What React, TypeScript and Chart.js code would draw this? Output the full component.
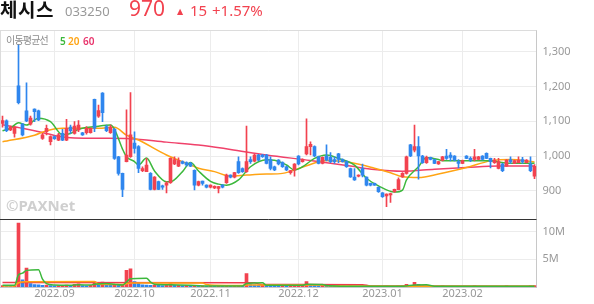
import React, { useEffect, useRef } from 'react';
import { Chart, registerables } from 'chart.js';

Chart.register(...registerables);

const DATES = [
  '2022-08-12','2022-08-16','2022-08-17','2022-08-18','2022-08-19','2022-08-22','2022-08-23','2022-08-24','2022-08-25','2022-08-26','2022-08-29','2022-08-30','2022-08-31',
  '2022-09-01','2022-09-02','2022-09-05','2022-09-06','2022-09-07','2022-09-08','2022-09-13','2022-09-14','2022-09-15','2022-09-16','2022-09-19','2022-09-20','2022-09-21','2022-09-22','2022-09-23','2022-09-26','2022-09-27','2022-09-28','2022-09-29','2022-09-30',
  '2022-10-04','2022-10-05','2022-10-06','2022-10-07','2022-10-11','2022-10-12','2022-10-13','2022-10-14','2022-10-17','2022-10-18','2022-10-19','2022-10-20','2022-10-21','2022-10-24','2022-10-25','2022-10-26','2022-10-27','2022-10-28','2022-10-31',
  '2022-11-01','2022-11-02','2022-11-03','2022-11-04','2022-11-07','2022-11-08','2022-11-09','2022-11-10','2022-11-11','2022-11-14','2022-11-15','2022-11-16','2022-11-17','2022-11-18','2022-11-21','2022-11-22','2022-11-23','2022-11-24','2022-11-25','2022-11-28','2022-11-29','2022-11-30',
  '2022-12-01','2022-12-02','2022-12-05','2022-12-06','2022-12-07','2022-12-08','2022-12-09','2022-12-12','2022-12-13','2022-12-14','2022-12-15','2022-12-16','2022-12-19','2022-12-20','2022-12-21','2022-12-22','2022-12-23','2022-12-26','2022-12-27','2022-12-28','2022-12-29',
  '2023-01-02','2023-01-03','2023-01-04','2023-01-05','2023-01-06','2023-01-09','2023-01-10','2023-01-11','2023-01-12','2023-01-13','2023-01-16','2023-01-17','2023-01-18','2023-01-19','2023-01-20','2023-01-25','2023-01-26','2023-01-27','2023-01-30','2023-01-31',
  '2023-02-01','2023-02-02','2023-02-03','2023-02-06','2023-02-07','2023-02-08','2023-02-09','2023-02-10','2023-02-13','2023-02-14','2023-02-15','2023-02-16','2023-02-17','2023-02-20','2023-02-21','2023-02-22','2023-02-23','2023-02-24','2023-02-27',
];

const TICK_DATES = ['2022-09-01', '2022-10-04', '2022-11-01', '2022-12-01', '2023-01-02', '2023-02-01'];
const TICK_LABELS = ['2022.09', '2022.10', '2022.11', '2022.12', '2023.01', '2023.02'];
const PRICE_TICKS = [900, 1000, 1100, 1200, 1300];
const VOLUME_TICKS = [5, 10];

const OPEN = [
  1094,1101,1075,1065,1202,1092,1130,1092,1135,1130,1051,1070,1041,1056,1046,1065,1046,1083,1065,1075,
  1067,1067,1067,1163,1115,1181,1085,1067,1077,998,950,984,998,1037,1027,958,955,950,904,926,
  914,916,923,977,971,984,981,979,959,916,928,916,910,908,907,916,923,945,939,984,
  964,955,990,985,1003,1003,1003,990,969,988,981,969,952,960,1000,984,1006,1027,1027,998,
  979,1000,996,990,1006,990,984,964,939,942,964,939,921,921,910,894,885,888,897,903,
  940,950,1032,1017,1027,1000,981,996,990,977,987,1000,1003,1000,984,979,1000,993,990,990,
  1000,1008,993,981,964,977,971,990,979,981,990,981,977,942,
];
const HIGH = [
  1115,1104,1086,1085,1322,1094,1211,1115,1136,1132,1065,1089,1058,1058,1065,1077,1106,1089,1099,1102,
  1068,1085,1081,1164,1147,1183,1089,1089,1080,999,951,1133,1183,1070,1030,969,993,952,941,928,
  916,926,995,998,995,986,983,982,960,928,928,917,917,914,913,918,948,946,953,998,
  966,1086,998,1005,1005,1005,1005,998,971,990,983,971,959,978,1001,992,1107,1041,1029,1000,
  998,1032,1010,998,1008,992,986,965,964,946,977,940,922,922,911,895,891,893,905,937,
  952,1000,1034,1089,1056,1002,1000,997,991,985,999,1019,1010,1001,990,988,1001,998,1019,999,
  1001,1009,994,993,993,979,990,998,988,998,996,990,998,975,
];
const LOW = [
  1083,1070,1073,1054,1150,1058,1099,1089,1099,1102,1048,1061,1032,1048,1044,1044,1044,1065,1063,1070,
  1059,1063,1066,1070,1111,1099,1070,1065,990,945,883,983,996,1008,952,955,955,902,902,903,
  904,894,921,975,969,977,971,969,902,914,916,908,908,906,894,908,921,937,937,950,
  953,953,979,983,986,996,977,960,958,974,967,958,948,942,974,982,1003,1003,998,977,
  977,986,981,979,981,982,967,938,930,940,940,914,914,915,895,881,854,866,895,902,
  938,948,998,1012,933,979,979,989,978,976,986,990,986,986,966,978,992,984,986,989,
  989,992,966,979,963,955,970,979,978,980,979,980,955,935,
];
const CLOSE = [
  1102,1073,1083,1083,1154,1061,1101,1109,1128,1104,1061,1080,1056,1050,1061,1046,1080,1073,1086,1089,
  1061,1080,1080,1080,1131,1125,1073,1083,993,950,904,1003,1061,1022,964,964,974,904,939,904,
  910,923,993,990,987,979,974,971,916,926,921,910,916,913,912,910,945,939,952,952,
  955,984,984,1003,988,998,979,964,960,977,969,960,958,977,977,990,1027,1034,1000,979,
  996,988,984,984,990,984,969,940,931,945,945,916,916,916,897,883,890,892,904,932,
  950,998,1000,1027,1000,981,996,990,979,984,998,993,996,988,979,987,993,987,998,998,
  990,993,984,988,984,958,988,984,987,988,984,988,958,970,
];

// trading volume in millions of shares
const VOLUME_M = [
  0.25,0.2,0.15,0.2,11.55,1.3,3.4,0.6,0.45,0.4,
  0.3,0.35,0.25,0.2,0.25,0.3,0.35,0.3,0.5,0.55,
  0.25,0.2,0.3,0.95,0.85,0.9,0.35,0.3,0.35,0.3,
  0.35,3.0,3.3,1.0,0.8,0.4,0.35,0.3,0.35,0.3,
  0.25,0.3,0.6,0.3,0.3,0.25,0.3,0.25,0.3,0.2,
  0.2,0.15,0.2,0.1,0.15,0.1,0.2,0.15,0.2,0.3,
  0.2,2.4,0.5,0.4,0.3,0.35,0.3,0.25,0.2,0.15,
  0.2,0.15,0.2,0.25,0.3,0.3,1.0,0.5,0.3,0.25,
  0.3,0.25,0.2,0.15,0.2,0.15,0.1,0.15,0.1,0.1,
  0.15,0.1,0.1,0.1,0.1,0.1,0.15,0.1,0.1,0.15,
  0.2,0.5,0.15,0.85,0.5,0.2,0.15,0.1,0.1,0.1,
  0.2,0.1,0.1,0.1,0.1,0.1,0.1,0.1,0.2,0.1,
  0.1,0.1,0.1,0.1,0.1,0.1,0.2,0.1,0.1,0.1,
  0.1,0.1,0.2,0.25,
];

// moving averages: [day index, value]
const MA5: [number, number][] = [
  [0,1073],[2,1080],[4,1096],[6,1089],[9,1109],[12,1099],[15,1061],[17,1065],[19,1077],[24,1086],[27,1089],[28,1077],[30,1020],[31,998],[33,984],[34,974],[36,994],[38,957],[41,926],[42,926],[45,955],[47,981],[49,957],[52,927],[54,919],[56,916],[59,931],[62,969],[66,989],[68,988],[71,974],[73,960],[75,969],[78,993],[81,1003],[84,993],[88,974],[91,936],[94,914],[98,896],[100,902],[101,931],[104,969],[106,996],[109,990],[110,986],[122,986],[124,983],[127,979],[133,979],
];
const MA20: [number, number][] = [
  [0,1041],[8,1060],[11,1073],[15,1080],[24,1080],[28,1083],[31,1060],[34,1046],[41,1003],[46,979],[49,965],[53,955],[57,942],[61,945],[66,948],[70,950],[76,972],[81,987],[87,981],[93,965],[97,952],[100,940],[104,938],[109,948],[116,967],[122,986],[127,990],[133,983],
];
const MA60: [number, number][] = [
  [0,1090],[5,1080],[10,1068],[14,1057],[18,1052],[25,1051],[32,1050],[41,1040],[49,1032],[57,1019],[66,1003],[77,987],[87,971],[93,961],[100,956],[108,962],[116,967],[124,971],[133,971],
];
const VMA5: [number, number][] = [
  [0,0.3],[3,0.3],[4,2.2],[5,2.5],[6,3.0],[9,3.1],[10,1.4],[11,0.6],[13,0.35],[17,0.3],[19,0.4],[22,0.35],[23,0.5],[26,0.65],[28,0.5],[30,0.35],[31,0.9],[32,1.5],[36,1.6],[37,0.9],[38,0.5],[42,0.4],[47,0.3],[50,0.2],[60,0.2],[61,0.65],[65,0.75],[66,0.3],[75,0.3],[76,0.5],[80,0.45],[81,0.25],[85,0.15],[100,0.12],[101,0.2],[103,0.38],[106,0.4],[108,0.15],[133,0.15],
];
const VMA20: [number, number][] = [
  [0,0.2],[3,0.2],[4,0.78],[6,0.95],[23,1.0],[24,0.5],[30,0.45],[31,0.6],[32,0.72],[50,0.7],[51,0.45],[53,0.3],[60,0.25],[61,0.35],[80,0.35],[81,0.22],[100,0.15],[133,0.15],
];
const VMA60: [number, number][] = [
  [0,0.8],[63,0.78],[64,0.55],[66,0.45],[90,0.42],[92,0.2],[133,0.15],
];

const RED = '#f2424f';
const BLUE = '#2f86ee';
const C_MA5 = '#3cb83c';
const C_MA20 = '#ffa414';
const C_MA60 = '#f0416a';
const GRID = '#ececec';
const AXIS = '#c8c8c8';
const FONT = "'Noto Sans', 'Noto Sans CJK KR', sans-serif";
const KFONT = "'Noto Sans CJK KR', 'Noto Sans', sans-serif";

const TICK_INDEX = TICK_DATES.map((d) => DATES.indexOf(d));

const toPoints = (arr: [number, number][]) => arr.map(([i, v]) => ({ x: DATES[i], y: v }));

const framePlugin = {
  id: 'frame',
  afterDraw(chart: any) {
    const { ctx, chartArea: a, scales } = chart;
    ctx.save();
    ctx.lineWidth = 1;
    ctx.strokeStyle = '#dcdcdc';
    ctx.beginPath();
    ctx.moveTo(0, Math.round(a.top) + 0.5);
    ctx.lineTo(a.right, Math.round(a.top) + 0.5);
    ctx.moveTo(0.5, a.top);
    ctx.lineTo(0.5, a.bottom);
    ctx.stroke();
    ctx.strokeStyle = '#333333';
    const y = Math.round(scales.y.bottom) + 0.5;
    ctx.beginPath();
    ctx.moveTo(0, y);
    ctx.lineTo(a.right, y);
    ctx.stroke();
    ctx.restore();
  },
};

export default function App() {
  const ref = useRef<HTMLCanvasElement>(null);

  useEffect(() => {
    const canvas = ref.current;
    if (!canvas) return;
    Chart.defaults.font.family = FONT;
    const candleColor = (ctx: any) => (CLOSE[ctx.dataIndex] >= OPEN[ctx.dataIndex] ? RED : BLUE);
    const volColor = (ctx: any) => {
      const i = ctx.dataIndex;
      return i > 0 && VOLUME_M[i] < VOLUME_M[i - 1] ? BLUE : RED;
    };
    const lineDs = (label: string, arr: [number, number][], color: string, axis: string, order: number, width = 1.5) => ({
      type: 'line' as const,
      label,
      data: toPoints(arr),
      yAxisID: axis,
      borderColor: color,
      backgroundColor: color,
      borderWidth: width,
      pointRadius: 0,
      cubicInterpolationMode: 'monotone' as const,
      order,
    });

    const chart = new Chart(canvas, {
      type: 'bar',
      data: {
        labels: DATES,
        datasets: [
          {
            type: 'bar',
            label: 'body',
            data: OPEN.map((o, i) => [o, CLOSE[i]]) as any,
            yAxisID: 'y',
            backgroundColor: candleColor,
            barThickness: 3,
            grouped: false,
            minBarLength: 1,
            borderWidth: 0,
            order: 1,
          },
          {
            type: 'bar',
            label: 'wick',
            data: LOW.map((l, i) => [l, HIGH[i]]) as any,
            yAxisID: 'y',
            backgroundColor: candleColor,
            barThickness: 1,
            grouped: false,
            borderWidth: 0,
            order: 2,
          },
          lineDs('MA5', MA5, C_MA5, 'y', 3),
          lineDs('MA20', MA20, C_MA20, 'y', 4),
          lineDs('MA60', MA60, C_MA60, 'y', 5),
          {
            type: 'bar',
            label: 'volume',
            data: VOLUME_M,
            yAxisID: 'yv',
            backgroundColor: volColor,
            barThickness: 3,
            grouped: false,
            borderWidth: 0,
            order: 9,
          },
          lineDs('VMA5', VMA5, C_MA5, 'yv', 0),
          lineDs('VMA20', VMA20, C_MA20, 'yv', 0),
          lineDs('VMA60', VMA60, '#f03a4a', 'yv', 0),
        ] as any,
      },
      options: {
        animation: false,
        responsive: false,
        devicePixelRatio: 1,
        layout: { padding: { top: 30, left: 0.5, right: 0, bottom: 0 } },
        plugins: { legend: { display: false }, tooltip: { enabled: false } },
        scales: {
          x: {
            type: 'category',
            offset: true,
            grid: {
              offset: false,
              drawTicks: false,
              color: (c: any) => (TICK_INDEX.includes(c.index) ? GRID : 'rgba(0,0,0,0)'),
            },
            border: { display: true, color: AXIS },
            ticks: {
              autoSkip: false,
              maxRotation: 0,
              minRotation: 0,
              padding: 0,
              color: '#999',
              font: { size: 11 },
              callback: (_v: any, i: number) => {
                const k = TICK_INDEX.indexOf(i);
                return k >= 0 ? TICK_LABELS[k] : '';
              },
            },
            afterFit: (s: any) => {
              s.height = 17;
            },
          },
          y: {
            type: 'linear',
            position: 'right',
            stack: 'main',
            stackWeight: 188.5,
            min: 820,
            max: 1363,
            afterBuildTicks: (s: any) => {
              s.ticks = PRICE_TICKS.map((v) => ({ value: v }));
            },
            grid: { color: GRID, drawTicks: false },
            border: { display: true, color: AXIS },
            ticks: {
              color: '#999',
              font: { size: 11 },
              padding: 6,
              callback: (v: any) => Number(v).toLocaleString('en-US'),
            },
            afterFit: (s: any) => {
              s.width = 57.5;
            },
          },
          yv: {
            type: 'linear',
            position: 'right',
            stack: 'main',
            stackWeight: 68.5,
            min: 0,
            max: 12.36,
            afterBuildTicks: (s: any) => {
              s.ticks = VOLUME_TICKS.map((v) => ({ value: v }));
            },
            grid: { color: GRID, drawTicks: false },
            border: { display: true, color: AXIS },
            ticks: {
              color: '#999',
              font: { size: 11 },
              padding: 6,
              callback: (v: any) => `${v}M`,
            },
            afterFit: (s: any) => {
              s.width = 57.5;
            },
          },
        },
      } as any,
      plugins: [framePlugin],
    });
    return () => chart.destroy();
  }, []);

  const abs = (s: React.CSSProperties): React.CSSProperties => ({
    position: 'absolute',
    whiteSpace: 'nowrap',
    lineHeight: 1,
    ...s,
  });

  return (
    <div style={{ position: 'absolute', left: 0, top: 0, width: 594, height: 304, overflow: 'hidden', background: '#fff' }}>
      <canvas ref={ref} width={594} height={304} style={{ position: 'absolute', left: 0, top: 0, width: 594, height: 304 }} />
      <span style={abs({ left: 0, top: -1, fontFamily: KFONT, fontWeight: 700, fontSize: 19, color: '#111', letterSpacing: 0.5 })}>체시스</span>
      <span style={abs({ left: 65, top: 5, fontFamily: FONT, fontSize: 13, color: '#999' })}>033250</span>
      <span style={abs({ left: 129, top: -1.9, fontFamily: FONT, fontSize: 21, color: RED })}>970</span>
      <span style={abs({ left: 177, top: 8, fontFamily: "'DejaVu Sans', sans-serif", fontSize: 8, color: RED })}>▲</span>
      <span style={abs({ left: 190, top: 3.4, fontFamily: FONT, fontSize: 15, color: RED })}>15</span>
      <span style={abs({ left: 212, top: 3.4, fontFamily: FONT, fontSize: 15, color: RED })}>+1.57%</span>
      <span style={abs({ left: 6, top: 35, fontFamily: KFONT, fontSize: 10, color: '#8c8c8c', letterSpacing: -0.8 })}>이동평균선</span>
      <span style={abs({ left: 60, top: 35.5, fontFamily: FONT, fontSize: 10, fontWeight: 600, color: C_MA5 })}>5</span>
      <span style={abs({ left: 68, top: 35.5, fontFamily: FONT, fontSize: 10, fontWeight: 600, color: C_MA20 })}>20</span>
      <span style={abs({ left: 83, top: 35.5, fontFamily: FONT, fontSize: 10, fontWeight: 600, color: '#e8336b' })}>60</span>
      <span style={abs({ left: 6, top: 198, fontFamily: FONT, fontSize: 15, fontWeight: 700, color: '#cfcfcf' })}>©PAXNet</span>
    </div>
  );
}
